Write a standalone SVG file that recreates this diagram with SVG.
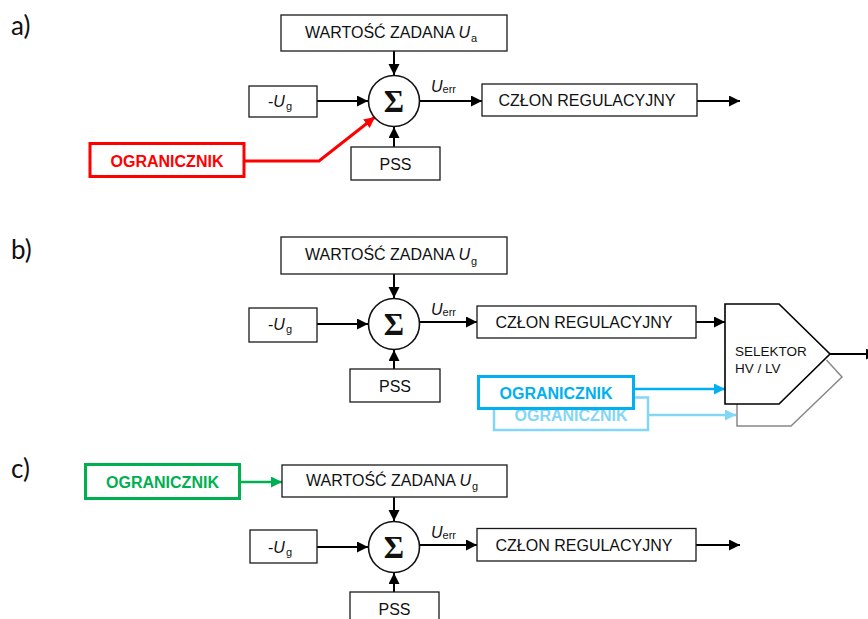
<svg xmlns="http://www.w3.org/2000/svg" width="868" height="619" viewBox="0 0 868 619">
  <style>
    .box { fill: #fff; stroke: #1a1a1a; stroke-width: 1.3; }
    .sum { fill: #fff; stroke: #111; stroke-width: 1.6; }
    .lbl { font-family: "Liberation Sans", Arial, sans-serif; font-size: 16px; fill: #111; }
    .it { font-style: italic; }
    .sub { font-size: 11px; }
    .sigma { font-family: "Liberation Serif", "Times New Roman", serif; font-size: 31px; fill: #111; font-weight: bold; }
    .tag { font-family: Lato, "Open Sans", sans-serif; font-size: 26px; fill: #111; }
    .wire { fill: none; stroke: #000; stroke-width: 2; }
    .lim { font-family: "Liberation Sans", Arial, sans-serif; font-size: 16px; font-weight: bold; }
  </style>
  <defs>
    <marker id="ah" markerUnits="userSpaceOnUse" markerWidth="12" markerHeight="12" refX="11" refY="5.5" orient="auto">
      <path d="M0,0 L11,5.5 L0,11 z" fill="#000"/>
    </marker>
    <marker id="ah-red" markerUnits="userSpaceOnUse" markerWidth="12" markerHeight="12" refX="11" refY="5.5" orient="auto">
      <path d="M0,0 L11,5.5 L0,11 z" fill="#ff0000"/>
    </marker>
    <marker id="ah-blue" markerUnits="userSpaceOnUse" markerWidth="12" markerHeight="12" refX="11" refY="5.5" orient="auto">
      <path d="M0,0 L11,5.5 L0,11 z" fill="#00b0f0"/>
    </marker>
    <marker id="ah-lblue" markerUnits="userSpaceOnUse" markerWidth="12" markerHeight="12" refX="11" refY="5.5" orient="auto">
      <path d="M0,0 L11,5.5 L0,11 z" fill="#84d6f8"/>
    </marker>
    <marker id="ah-green" markerUnits="userSpaceOnUse" markerWidth="12" markerHeight="12" refX="11" refY="5.5" orient="auto">
      <path d="M0,0 L11,5.5 L0,11 z" fill="#00b050"/>
    </marker>
  </defs>

  <!-- panel labels -->
  <text class="tag" x="11" y="35">a)</text>
  <text class="tag" x="11" y="259">b)</text>
  <text class="tag" x="11" y="478">c)</text>

  <!-- connectors -->
  <g id="connectors">
    <!-- a -->
    <line class="wire" x1="394" y1="51" x2="394" y2="75" marker-end="url(#ah)"/>
    <line class="wire" x1="317" y1="101" x2="368" y2="101" marker-end="url(#ah)"/>
    <line class="wire" x1="394" y1="147" x2="394" y2="127" marker-end="url(#ah)"/>
    <line class="wire" x1="420" y1="101" x2="482" y2="101" marker-end="url(#ah)"/>
    <line class="wire" x1="697" y1="101" x2="740" y2="101" marker-end="url(#ah)"/>
    <polyline points="244,161 319,161 375,117" fill="none" stroke="#ff0000" stroke-width="3" marker-end="url(#ah-red)"/>
    <!-- b -->
    <line class="wire" x1="394" y1="274" x2="394" y2="298" marker-end="url(#ah)"/>
    <line class="wire" x1="317" y1="324" x2="368" y2="324" marker-end="url(#ah)"/>
    <line class="wire" x1="394" y1="369" x2="394" y2="350" marker-end="url(#ah)"/>
    <line class="wire" x1="420" y1="322" x2="477" y2="322" marker-end="url(#ah)"/>
    <line class="wire" x1="696" y1="322" x2="725" y2="322" marker-end="url(#ah)"/>
    <line class="wire" x1="830" y1="354" x2="877" y2="354" marker-end="url(#ah)"/>
    <line x1="648" y1="415" x2="736" y2="415" stroke="#84d6f8" stroke-width="2.5" marker-end="url(#ah-lblue)"/>
    <line x1="633" y1="389" x2="725" y2="389" stroke="#00b0f0" stroke-width="2.5" marker-end="url(#ah-blue)"/>
    <!-- c -->
    <line x1="239" y1="482" x2="282" y2="482" stroke="#00b050" stroke-width="2.5" marker-end="url(#ah-green)"/>
    <line class="wire" x1="394" y1="497" x2="394" y2="521" marker-end="url(#ah)"/>
    <line class="wire" x1="317" y1="547" x2="368" y2="547" marker-end="url(#ah)"/>
    <line class="wire" x1="394" y1="592" x2="394" y2="573" marker-end="url(#ah)"/>
    <line class="wire" x1="420" y1="545" x2="477" y2="545" marker-end="url(#ah)"/>
    <line class="wire" x1="696" y1="545" x2="740" y2="545" marker-end="url(#ah)"/>
  </g>

  <!-- ===== panel a ===== -->
  <g id="a-setpoint">
    <rect class="box" x="281" y="15" width="226" height="36"/>
    <text class="lbl" x="305" y="38">WARTOŚĆ ZADANA <tspan class="it">U</tspan><tspan class="sub" dx="1" dy="4">a</tspan></text>
  </g>
  <g id="a-ug">
    <rect class="box" x="249" y="86" width="68" height="31"/>
    <text class="lbl" x="268" y="107">-<tspan class="it">U</tspan><tspan class="sub" dx="1" dy="3">g</tspan></text>
  </g>
  <g id="a-sum">
    <circle class="sum" cx="394" cy="101" r="25.5"/>
    <text class="sigma" x="394" y="112" text-anchor="middle">Σ</text>
  </g>
  <g id="a-uerr">
    <text class="lbl" x="431" y="92"><tspan class="it">U</tspan><tspan class="sub" dy="1">err</tspan></text>
  </g>
  <g id="a-pss">
    <rect class="box" x="351" y="147" width="89" height="33"/>
    <text class="lbl" x="395.5" y="170" text-anchor="middle">PSS</text>
  </g>
  <g id="a-regulator">
    <rect class="box" x="482" y="84" width="215" height="32"/>
    <text class="lbl" x="587" y="106" text-anchor="middle">CZŁON REGULACYJNY</text>
  </g>
  <g id="a-limiter">
    <rect x="90" y="143.5" width="154" height="33" fill="#fff" stroke="#ff0000" stroke-width="3"/>
    <text class="lim" x="167" y="167" text-anchor="middle" fill="#ff0000">OGRANICZNIK</text>
  </g>

  <!-- ===== panel b ===== -->
  <g id="b-setpoint">
    <rect class="box" x="281" y="237" width="226" height="37"/>
    <text class="lbl" x="305" y="260">WARTOŚĆ ZADANA <tspan class="it">U</tspan><tspan class="sub" dx="1" dy="5">g</tspan></text>
  </g>
  <g id="b-ug">
    <rect class="box" x="249" y="308" width="68" height="34"/>
    <text class="lbl" x="268" y="330">-<tspan class="it">U</tspan><tspan class="sub" dx="1" dy="3">g</tspan></text>
  </g>
  <g id="b-sum">
    <circle class="sum" cx="394" cy="324" r="25.5"/>
    <text class="sigma" x="394" y="335" text-anchor="middle">Σ</text>
  </g>
  <g id="b-uerr">
    <text class="lbl" x="431" y="315"><tspan class="it">U</tspan><tspan class="sub" dy="1">err</tspan></text>
  </g>
  <g id="b-pss">
    <rect class="box" x="350" y="369" width="90" height="33"/>
    <text class="lbl" x="395" y="392" text-anchor="middle">PSS</text>
  </g>
  <g id="b-regulator">
    <rect class="box" x="477" y="306" width="219" height="32"/>
    <text class="lbl" x="584" y="328" text-anchor="middle">CZŁON REGULACYJNY</text>
  </g>
  <g id="b-selector">
    <polyline points="826.5,360 842,377 791,426 737,426 737,404" fill="none" stroke="#888" stroke-width="1.5"/>
    <polygon points="725,304 779,304 830,354 779,404 725,404" fill="#fff" stroke="#000" stroke-width="1.6"/>
    <text class="lbl" x="735" y="356" style="font-size:13.5px">SELEKTOR</text>
    <text class="lbl" x="735" y="373" style="font-size:13.5px">HV / LV</text>
  </g>
  <g id="b-limiter-2">
    <rect x="494" y="397.5" width="154" height="32.5" fill="#fff" stroke="#84d6f8" stroke-width="2.5"/>
    <text class="lim" x="571" y="421" text-anchor="middle" fill="#84d6f8">OGRANICZNIK</text>
  </g>
  <g id="b-limiter-1">
    <rect x="478.5" y="376.5" width="155" height="32" fill="#fff" stroke="#00b0f0" stroke-width="3"/>
    <text class="lim" x="556" y="399" text-anchor="middle" fill="#00b0f0">OGRANICZNIK</text>
  </g>

  <!-- ===== panel c ===== -->
  <g id="c-limiter">
    <rect x="85.5" y="464.5" width="154" height="34" fill="#fff" stroke="#00b050" stroke-width="3"/>
    <text class="lim" x="162.5" y="488" text-anchor="middle" fill="#00b050">OGRANICZNIK</text>
  </g>
  <g id="c-setpoint">
    <rect class="box" x="282" y="465" width="225" height="32"/>
    <text class="lbl" x="306" y="486">WARTOŚĆ ZADANA <tspan class="it">U</tspan><tspan class="sub" dx="1" dy="4">g</tspan></text>
  </g>
  <g id="c-ug">
    <rect class="box" x="250" y="530" width="67" height="33"/>
    <text class="lbl" x="268" y="553">-<tspan class="it">U</tspan><tspan class="sub" dx="1" dy="3">g</tspan></text>
  </g>
  <g id="c-sum">
    <circle class="sum" cx="394" cy="547" r="25.5"/>
    <text class="sigma" x="394" y="558" text-anchor="middle">Σ</text>
  </g>
  <g id="c-uerr">
    <text class="lbl" x="431" y="538"><tspan class="it">U</tspan><tspan class="sub" dy="1">err</tspan></text>
  </g>
  <g id="c-pss">
    <rect class="box" x="350" y="592" width="89" height="40"/>
    <text class="lbl" x="394.5" y="615" text-anchor="middle">PSS</text>
  </g>
  <g id="c-regulator">
    <rect class="box" x="477" y="528.5" width="219" height="32.5"/>
    <text class="lbl" x="584" y="551" text-anchor="middle">CZŁON REGULACYJNY</text>
  </g>
</svg>
